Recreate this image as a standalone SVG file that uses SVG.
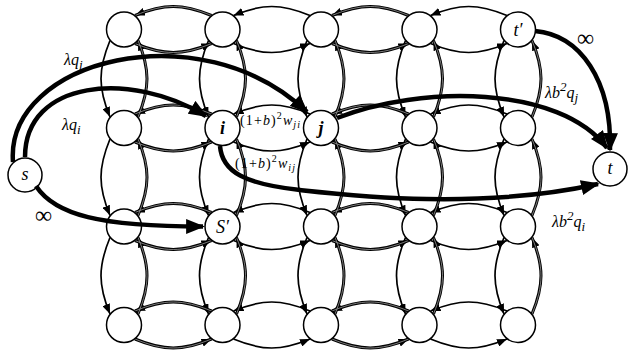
<svg xmlns="http://www.w3.org/2000/svg" xmlns:xlink="http://www.w3.org/1999/xlink" width="628" height="354" viewBox="0 0 628 354">
<style>
.arcs{fill:none;stroke:#000;stroke-width:1.7;marker-end:url(#ah)}
.dbl{stroke-width:3}
.inner{fill:none;stroke:#b0b0b0;stroke-width:0.7;marker-end:none}
.node circle{fill:#fff;stroke:#000;stroke-width:1.5}
.flow{fill:none;stroke:#000;stroke-width:4.5;marker-end:url(#AH)}
text{font-family:"Liberation Serif","Times New Roman",serif;fill:#000}
.nl{font-style:italic;font-size:18px;text-anchor:middle}
.b{font-weight:bold}
.lbl{font-style:italic;font-size:16px}
.sm{font-size:13px}
.inf{font-size:24px}
</style>
<defs>
<marker id="ah" viewBox="0 0 10 8" refX="10" refY="4" markerWidth="10" markerHeight="8" orient="auto" markerUnits="userSpaceOnUse"><path d="M0,0L10,4L0,8z" fill="#000"/></marker>
<marker id="AH" viewBox="0 0 10 8" refX="9" refY="4" markerWidth="19" markerHeight="15" orient="auto" markerUnits="userSpaceOnUse"><path d="M0,0L10,4L0,8z" fill="#000"/></marker>
</defs>

<g id="connectors" class="arcs">
<g id="single-arcs">
<path d="M310,15.5C281,3.5 262.5,3.5 233.5,15.5"/>
<path d="M233.5,43.5C262.5,55.5 281,55.5 310,43.5"/>
<path d="M507,15.5C478,3.5 459.5,3.5 430.5,15.5"/>
<path d="M430.5,43.5C459.5,55.5 478,55.5 507,43.5"/>
<path d="M310,114C281,102 262.5,102 233.5,114"/>
<path d="M233.5,142C262.5,154 281,154 310,142"/>
<path d="M507,114C478,102 459.5,102 430.5,114"/>
<path d="M430.5,142C459.5,154 478,154 507,142"/>
<path d="M310,212.5C281,200.5 262.5,200.5 233.5,212.5"/>
<path d="M233.5,240.5C262.5,252.5 281,252.5 310,240.5"/>
<path d="M507,212.5C478,200.5 459.5,200.5 430.5,212.5"/>
<path d="M430.5,240.5C459.5,252.5 478,252.5 507,240.5"/>
<path d="M310,311C281,299 262.5,299 233.5,311"/>
<path d="M233.5,339C262.5,351 281,351 310,339"/>
<path d="M507,311C478,299 459.5,299 430.5,311"/>
<path d="M430.5,339C459.5,351 478,351 507,339"/>
<path d="M110,40.5C98,69.5 98,88 110,117"/>
<path d="M110,139C98,168 98,186.5 110,215.5"/>
<path d="M110,237.5C98,266.5 98,285 110,314"/>
<path d="M208.5,40.5C196.5,69.5 196.5,88 208.5,117"/>
<path d="M208.5,139C196.5,168 196.5,186.5 208.5,215.5"/>
<path d="M208.5,237.5C196.5,266.5 196.5,285 208.5,314"/>
<path d="M307,40.5C295,69.5 295,88 307,117"/>
<path d="M307,139C295,168 295,186.5 307,215.5"/>
<path d="M307,237.5C295,266.5 295,285 307,314"/>
<path d="M405.5,40.5C393.5,69.5 393.5,88 405.5,117"/>
<path d="M405.5,139C393.5,168 393.5,186.5 405.5,215.5"/>
<path d="M405.5,237.5C393.5,266.5 393.5,285 405.5,314"/>
<path d="M504,40.5C492,69.5 492,88 504,117"/>
<path d="M504,139C492,168 492,186.5 504,215.5"/>
<path d="M504,237.5C492,266.5 492,285 504,314"/>
</g>
<g id="double-arcs" class="dbl">
<path id="d1" d="M211.5,15.5C182.5,3.5 164,3.5 135,15.5"/>
<path id="d2" d="M135,43.5C164,55.5 182.5,55.5 211.5,43.5"/>
<path id="d3" d="M408.5,15.5C379.5,3.5 361,3.5 332,15.5"/>
<path id="d4" d="M332,43.5C361,55.5 379.5,55.5 408.5,43.5"/>
<path id="d5" d="M211.5,114C182.5,102 164,102 135,114"/>
<path id="d6" d="M135,142C164,154 182.5,154 211.5,142"/>
<path id="d7" d="M408.5,114C379.5,102 361,102 332,114"/>
<path id="d8" d="M332,142C361,154 379.5,154 408.5,142"/>
<path id="d9" d="M211.5,212.5C182.5,200.5 164,200.5 135,212.5"/>
<path id="d10" d="M135,240.5C164,252.5 182.5,252.5 211.5,240.5"/>
<path id="d11" d="M408.5,212.5C379.5,200.5 361,200.5 332,212.5"/>
<path id="d12" d="M332,240.5C361,252.5 379.5,252.5 408.5,240.5"/>
<path id="d13" d="M211.5,311C182.5,299 164,299 135,311"/>
<path id="d14" d="M135,339C164,351 182.5,351 211.5,339"/>
<path id="d15" d="M408.5,311C379.5,299 361,299 332,311"/>
<path id="d16" d="M332,339C361,351 379.5,351 408.5,339"/>
<path id="d17" d="M138,117C150,88 150,69.5 138,40.5"/>
<path id="d18" d="M138,215.5C150,186.5 150,168 138,139"/>
<path id="d19" d="M138,314C150,285 150,266.5 138,237.5"/>
<path id="d20" d="M236.5,117C248.5,88 248.5,69.5 236.5,40.5"/>
<path id="d21" d="M236.5,215.5C248.5,186.5 248.5,168 236.5,139"/>
<path id="d22" d="M236.5,314C248.5,285 248.5,266.5 236.5,237.5"/>
<path id="d23" d="M335,117C347,88 347,69.5 335,40.5"/>
<path id="d24" d="M335,215.5C347,186.5 347,168 335,139"/>
<path id="d25" d="M335,314C347,285 347,266.5 335,237.5"/>
<path id="d26" d="M433.5,117C445.5,88 445.5,69.5 433.5,40.5"/>
<path id="d27" d="M433.5,215.5C445.5,186.5 445.5,168 433.5,139"/>
<path id="d28" d="M433.5,314C445.5,285 445.5,266.5 433.5,237.5"/>
<path id="d29" d="M532,117C544,88 544,69.5 532,40.5"/>
<path id="d30" d="M532,215.5C544,186.5 544,168 532,139"/>
<path id="d31" d="M532,314C544,285 544,266.5 532,237.5"/>
</g>
<g class="inner">
<use xlink:href="#d1"/><use xlink:href="#d2"/><use xlink:href="#d3"/><use xlink:href="#d4"/>
<use xlink:href="#d5"/><use xlink:href="#d6"/><use xlink:href="#d7"/><use xlink:href="#d8"/>
<use xlink:href="#d9"/><use xlink:href="#d10"/><use xlink:href="#d11"/><use xlink:href="#d12"/>
<use xlink:href="#d13"/><use xlink:href="#d14"/><use xlink:href="#d15"/><use xlink:href="#d16"/>
<use xlink:href="#d17"/><use xlink:href="#d18"/><use xlink:href="#d19"/><use xlink:href="#d20"/>
<use xlink:href="#d21"/><use xlink:href="#d22"/><use xlink:href="#d23"/><use xlink:href="#d24"/>
<use xlink:href="#d25"/><use xlink:href="#d26"/><use xlink:href="#d27"/><use xlink:href="#d28"/>
<use xlink:href="#d29"/><use xlink:href="#d30"/><use xlink:href="#d31"/>
</g>
</g>

<g id="n-r0-c0" class="node"><circle cx="124" cy="29.5" r="17.5"/></g>
<g id="n-r0-c1" class="node"><circle cx="222.5" cy="29.5" r="17.5"/></g>
<g id="n-r0-c2" class="node"><circle cx="321" cy="29.5" r="17.5"/></g>
<g id="n-r0-c3" class="node"><circle cx="419.5" cy="29.5" r="17.5"/></g>
<g id="node-tprime" class="node"><circle cx="518" cy="29.5" r="17.5"/><text class="nl" x="518" y="35.5">t′</text></g>
<g id="n-r1-c0" class="node"><circle cx="124" cy="128" r="17.5"/></g>
<g id="node-i" class="node"><circle cx="222.5" cy="128" r="17.5"/><text class="nl b" x="222.5" y="134">i</text></g>
<g id="node-j" class="node"><circle cx="321" cy="128" r="17.5"/><text class="nl b" x="321" y="134">j</text></g>
<g id="n-r1-c3" class="node"><circle cx="419.5" cy="128" r="17.5"/></g>
<g id="n-r1-c4" class="node"><circle cx="518" cy="128" r="17.5"/></g>
<g id="n-r2-c0" class="node"><circle cx="124" cy="226.5" r="17.5"/></g>
<g id="node-Sprime" class="node"><circle cx="222.5" cy="226.5" r="17.5"/><text class="nl" x="222.5" y="232.5">S′</text></g>
<g id="n-r2-c2" class="node"><circle cx="321" cy="226.5" r="17.5"/></g>
<g id="n-r2-c3" class="node"><circle cx="419.5" cy="226.5" r="17.5"/></g>
<g id="n-r2-c4" class="node"><circle cx="518" cy="226.5" r="17.5"/></g>
<g id="n-r3-c0" class="node"><circle cx="124" cy="325" r="17.5"/></g>
<g id="n-r3-c1" class="node"><circle cx="222.5" cy="325" r="17.5"/></g>
<g id="n-r3-c2" class="node"><circle cx="321" cy="325" r="17.5"/></g>
<g id="n-r3-c3" class="node"><circle cx="419.5" cy="325" r="17.5"/></g>
<g id="n-r3-c4" class="node"><circle cx="518" cy="325" r="17.5"/></g>
<g id="node-s" class="node"><circle cx="25" cy="175" r="17"/><text class="nl" x="25" y="180">s</text></g>
<g id="node-t" class="node"><circle cx="610" cy="169" r="17"/><text class="nl" x="610" y="174">t</text></g>

<g id="flow-edges" class="flow">
<path d="M13,162C5,60 200,10 307,112"/>
<path d="M25,157C25,80 130,70 206,116"/>
<path d="M36,186C55,215 100,226.5 203,226.5"/>
<path d="M535,31C580,35 612,80 610,150"/>
<path d="M337,118C420,85 560,85 607,148"/>
<path d="M220,146C222,172 245,184 300,190C355,196 480,210 598,184"/>
</g>

<g id="labels">
<text class="lbl" x="64" y="65">λq<tspan class="sm" dy="4">j</tspan></text>
<text class="lbl" x="62" y="130">λq<tspan class="sm" dy="4">i</tspan></text>
<text class="inf" x="35" y="223">∞</text>
<text class="inf" x="577" y="46">∞</text>
<text class="lbl" x="545" y="98">λb<tspan class="sm" dy="-7">2</tspan><tspan dy="7">q</tspan><tspan class="sm" dy="4">j</tspan></text>
<text class="lbl" x="552" y="227">λb<tspan class="sm" dy="-7">2</tspan><tspan dy="7">q</tspan><tspan class="sm" dy="4">i</tspan></text>
<text x="240" y="125" font-size="14" textLength="60" lengthAdjust="spacing">(1+<tspan font-style="italic">b</tspan>)<tspan font-size="10" dy="-6">2</tspan><tspan font-style="italic" dy="6">w</tspan><tspan font-style="italic" font-size="10" dy="3">ji</tspan></text>
<text x="235" y="168" font-size="14" textLength="60" lengthAdjust="spacing">(1+<tspan font-style="italic">b</tspan>)<tspan font-size="10" dy="-6">2</tspan><tspan font-style="italic" dy="6">w</tspan><tspan font-style="italic" font-size="10" dy="3">ij</tspan></text>
</g>
</svg>
